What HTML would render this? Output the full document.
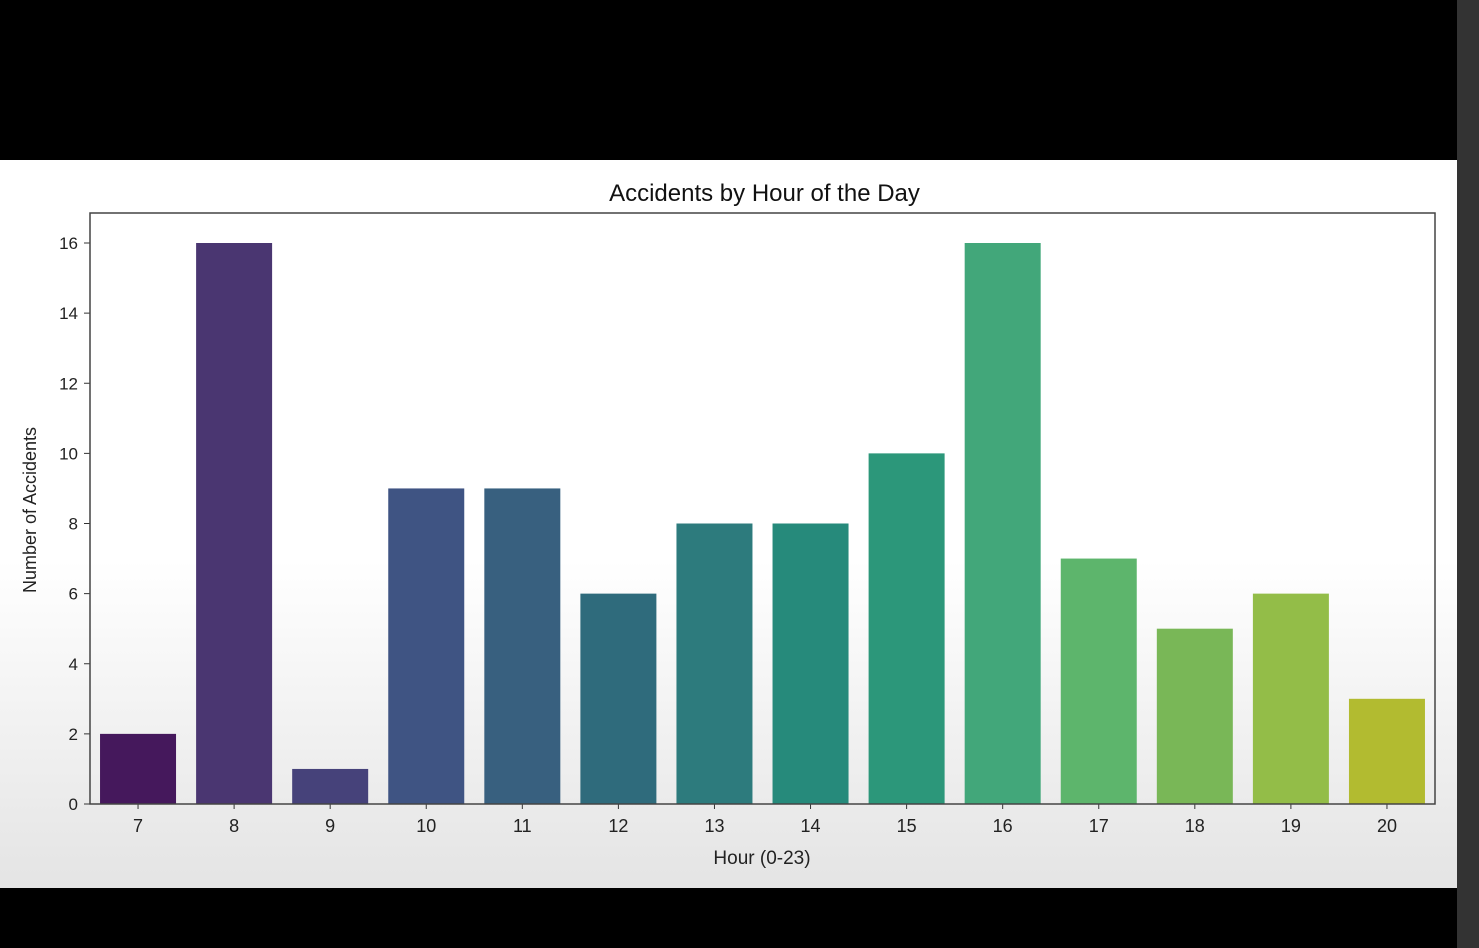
<!DOCTYPE html>
<html><head><meta charset="utf-8"><style>
body{margin:0;width:1479px;height:948px;background:#000;overflow:hidden;font-family:"Liberation Sans","DejaVu Sans",sans-serif}
#panel{position:absolute;left:0;top:160px;width:1457px;height:728px;background:linear-gradient(#fff 0%,#fff 55%,#e4e4e4 100%)}
#strip{position:absolute;left:1457px;top:0;width:22px;height:948px;background:#333}
</style></head><body>
<div id="strip"></div>
<div id="panel">
<svg id="chart" width="1457" height="728"></svg>
</div>
<script>
const categories=["7","8","9","10","11","12","13","14","15","16","17","18","19","20"];
const values=[2,16,1,9,9,6,8,8,10,16,7,5,6,3];
const colors=["#45185c","#4a3671","#46427a","#3f5483","#38607f","#2f6b7c","#2d7b7d","#268a7b","#2c977a","#42a77a","#5db56c","#79b757","#93bd48","#b2bb30"];
const yTicks=[0,2,4,6,8,10,12,14,16];
const svg=document.getElementById('chart');
const NS='http://www.w3.org/2000/svg';
const OY=-160;
const L=90,R=1435,T=213+OY,B=804+OY;
const step=(R-L)/categories.length;
const x=i=>L+step*(i+0.5);
const y=v=>B-v*(B-(243+OY))/16;
function mk(t,a,txt){const e=document.createElementNS(NS,t);for(const k in a)e.setAttribute(k,a[k]);if(txt!==undefined)e.textContent=txt;svg.appendChild(e);return e;}
values.forEach((v,i)=>{
const r=mk('rect',{x:x(i)-38,y:y(v),width:76,height:B-y(v),fill:colors[i]});


const tk=mk('line',{x1:x(i),x2:x(i),y1:B,y2:B+5,stroke:'#333'});


const t=mk('text',{x:x(i),y:B+28,'text-anchor':'middle','font-size':18,fill:'#222'},categories[i]);


});
yTicks.forEach(v=>{
const tk=mk('line',{x1:L-6,x2:L,y1:y(v),y2:y(v),stroke:'#333'});


const t=mk('text',{x:L-12,y:y(v)+6,'text-anchor':'end','font-size':17,fill:'#222'},String(v));


});
const fr=mk('rect',{x:L,y:T,width:R-L,height:B-T,fill:'none',stroke:'#444','stroke-width':1.5});


const ti=mk('text',{x:(L+R)/2+2,y:201+OY,'text-anchor':'middle','font-size':24,fill:'#111'},'Accidents by Hour of the Day');


const xt=mk('text',{x:762,y:864+OY,'text-anchor':'middle','font-size':19,fill:'#222'},'Hour (0-23)');


const yt=mk('text',{x:0,y:0,'text-anchor':'middle','font-size':18,fill:'#222',transform:'translate(36,'+(510+OY)+') rotate(-90)'},'Number of Accidents');


</script>
</body></html>
